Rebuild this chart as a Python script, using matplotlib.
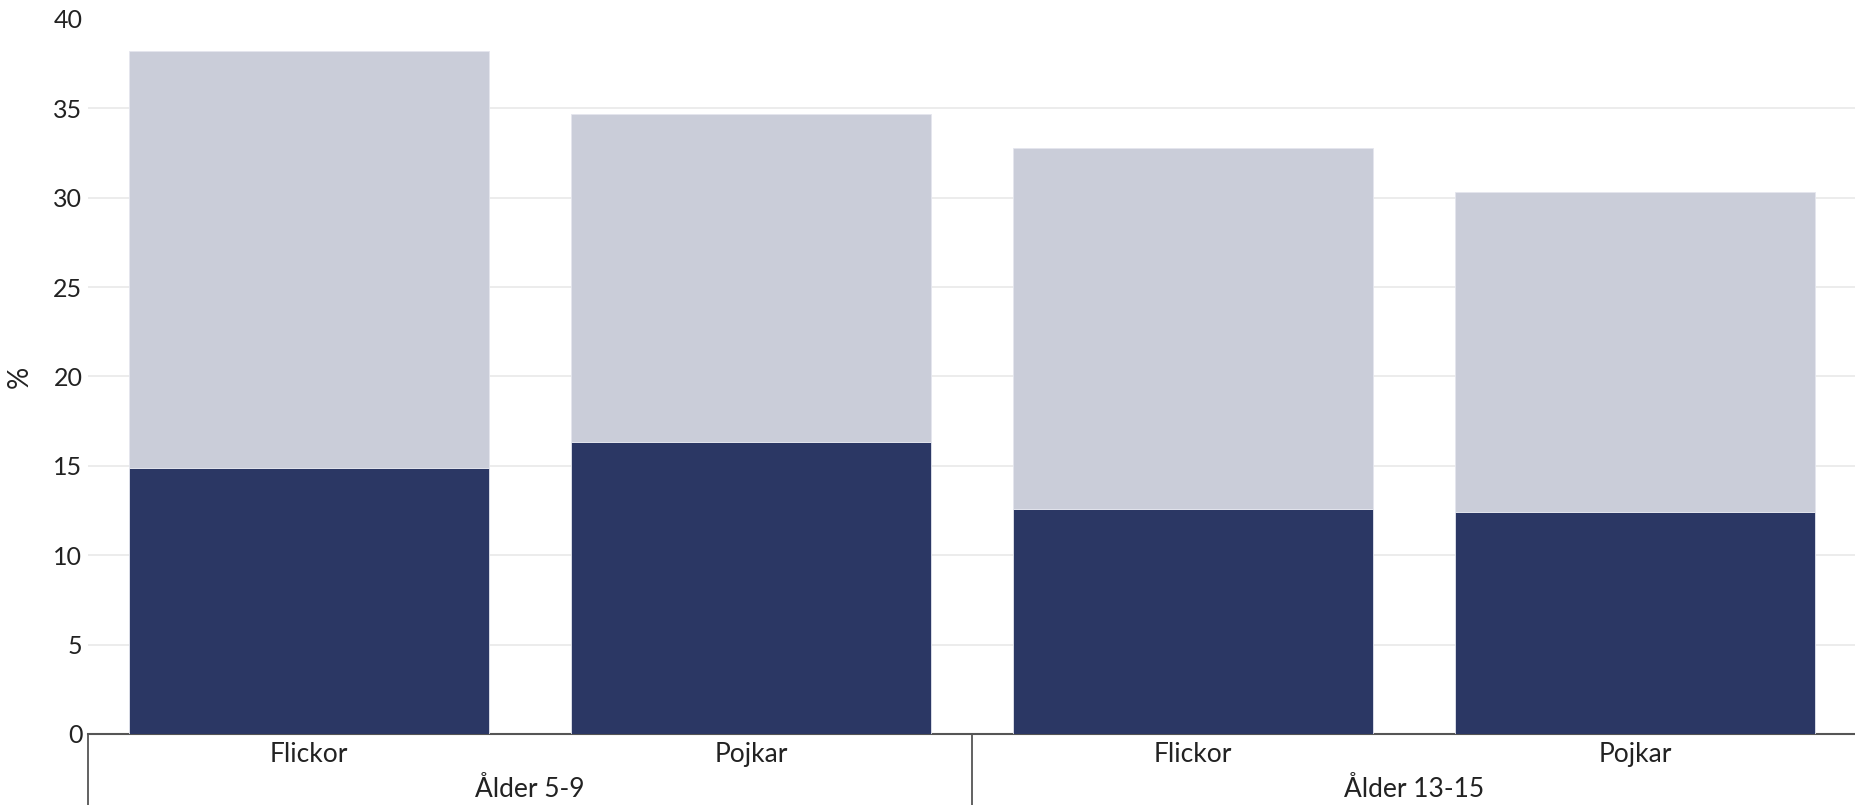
import matplotlib.pyplot as plt
import numpy as np

# Values (percent)
categories = ['Flickor', 'Pojkar', 'Flickor', 'Pojkar']
groups = ['Ålder 5-9', 'Ålder 13-15']
dark_values = [14.9, 16.35, 12.6, 12.4]
light_values = [23.3, 18.35, 20.2, 17.9]

dark_color = '#2b3764'
light_color = '#cacdd9'

plt.rcParams['font.family'] = ['Lato', 'DejaVu Sans']

fig = plt.figure(figsize=(18.56, 8.05), dpi=100)
ax = fig.add_axes([0.0474, 0.0882, 0.9526, 0.8882])

x = np.arange(len(categories))
ax.bar(x, dark_values, width=0.815, color=dark_color, edgecolor='#e4e6ee', linewidth=0.6, zorder=3)
ax.bar(x, light_values, bottom=dark_values, width=0.815, color=light_color,
       edgecolor='#e4e6ee', linewidth=0.6, zorder=3)

ax.set_xlim(-0.5, 3.5)
ax.set_ylim(0, 40)
ax.set_yticks(np.arange(0, 41, 5))
ax.tick_params(axis='y', length=0, pad=4, labelsize=18, labelcolor='#222222')
ax.set_xticks(x)
ax.set_xticklabels(categories)
ax.tick_params(axis='x', length=0, pad=6, labelsize=19, labelcolor='#222222')

ax.grid(axis='y', color='#ebebeb', linewidth=1.3, zorder=0)
ax.get_ygridlines()[-1].set_visible(False)
for side in ['top', 'right', 'left']:
    ax.spines[side].set_visible(False)
ax.spines['bottom'].set_color('#555555')
ax.spines['bottom'].set_linewidth(1.5)
ax.spines['bottom'].set_zorder(2)

ax.set_ylabel('%', fontsize=20, color='#222222')
ax.yaxis.set_label_coords(-0.031, 0.5)

# group labels and separators below the axis
trans = ax.get_xaxis_transform()
for i, g in enumerate(groups):
    ax.text(2 * i + 0.5, -0.077, g, transform=trans, ha='center', va='center',
            fontsize=19, color='#222222')
for xs in [-0.5, 1.5, 3.5]:
    ax.plot([xs, xs], [0, -0.1], transform=trans, color='#555555', linewidth=1.3,
            clip_on=False)

fig.savefig('out.png', dpi=100)
